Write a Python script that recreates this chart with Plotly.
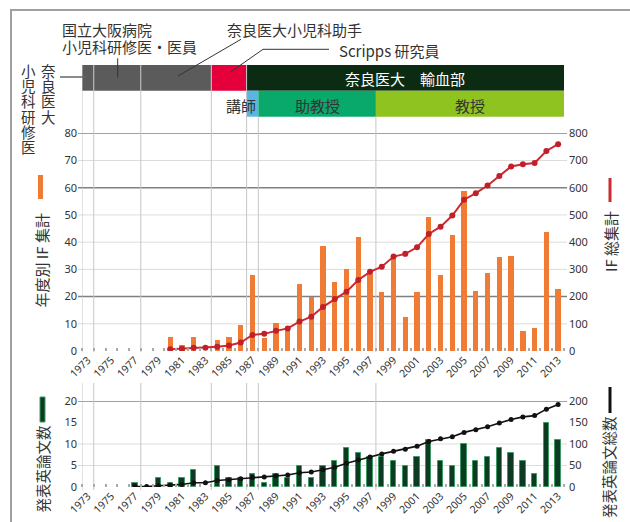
import plotly.graph_objects as go

W, H = 630, 522
def fx(p): return p / W
def fy(p): return 1 - p / H

# ---------------- data ----------------
if_years = list(range(1980, 2014))
annual_if = [5.1, 2.2, 5.0, None, 3.8, 5.0, 9.5, 27.7, 4.7, 10.2, 8.6, 24.5, 19.8, 38.4,
             25.3, 29.9, 41.9, 28.2, 21.7, 34.7, 12.3, 21.7, 49.1, 28.0, 42.4, 58.6,
             22.1, 28.4, 34.4, 34.8, 7.1, 8.4, 43.5, 22.8]
cum_if = [6, 8, 12, 12, 16, 20, 31, 59, 63, 74, 83, 108, 126, 162, 191, 218, 261, 291,
          310, 347, 357, 381, 430, 457, 498, 556, 580, 608, 643, 678, 686, 691, 735, 760]

paper_years = list(range(1977, 2014))
papers = [1, None, 2, 1, 2, 4, None, 5, 2, 2, 3, 1, 3, 2, 5, 2, 5, 6, 9, 8, 7, 7, 6, 5,
          7, 11, 6, 5, 10, 6, 7, 9, 8, 6, 3, 15, 11]
cum_papers = [1, 1, 3, 4, 6, 10, 10, 15, 17, 19, 22, 23, 26, 28, 33, 35, 40, 46, 55, 63,
              70, 77, 83, 88, 95, 106, 112, 117, 127, 133, 140, 149, 157, 163, 166, 181, 192]

tick_years = list(range(1973, 2014, 2))

career_top = [
    ("", 1972.5, 1973.5, "#5b5b5b"),
    ("", 1973.5, 1977.5, "#5b5b5b"),
    ("", 1977.5, 1983.5, "#5b5b5b"),
    ("", 1983.5, 1986.5, "#e5003c"),
    ("奈良医大　輸血部", 1986.5, 2013.5, "#0b2c13"),
]
career_bottom = [
    ("講師", 1986.5, 1987.5, "#5bb5e4"),
    ("助教授", 1987.5, 1997.5, "#08a96a"),
    ("教授", 1997.5, 2013.5, "#8fc320"),
]

top_grid_dark = [20, 60, 80]
top_grid_light = [10, 30, 40, 50, 70]
bot_grid_dark = [20]
bot_grid_light = [5, 10]

# ---------------- style ----------------
ORANGE = "#f07b34"
RED = "#cc2a30"
DKGREEN = "#0c3a22"
TXT = "#333333"
JP = "Noto Sans CJK JP"
NUM = "Noto Sans, Noto Sans CJK JP"

X_RANGE = [1972.5, 2013.5]
PL, PR = 82, 564

fig = go.Figure()
fig.add_trace(go.Bar(x=if_years, y=annual_if, width=0.45, marker_color=ORANGE,
                     marker_line_width=0, xaxis="x", yaxis="y", showlegend=False))
fig.add_trace(go.Scatter(x=if_years, y=cum_if, mode="lines+markers", xaxis="x", yaxis="y2",
                         line=dict(color=RED, width=2), marker=dict(color="#c0202a", size=6),
                         showlegend=False))
fig.add_trace(go.Bar(x=paper_years, y=papers, width=0.45, marker_color=DKGREEN,
                     marker_line=dict(color="#3d9a62", width=1), xaxis="x2", yaxis="y3",
                     showlegend=False))
fig.add_trace(go.Scatter(x=paper_years, y=cum_papers, mode="lines+markers", xaxis="x2", yaxis="y4",
                         line=dict(color="#111111", width=1.6), marker=dict(color="#111111", size=5),
                         showlegend=False))

xcommon = dict(range=X_RANGE, domain=[fx(PL), fx(PR)], tickmode="array", tickvals=tick_years,
               ticktext=[str(y) for y in tick_years], tickangle=-45, showgrid=False,
               zeroline=False, showline=False, ticks="", automargin=False,
               tickfont=dict(family=NUM, size=10.5, color=TXT),
               minor=dict(tickmode="linear", tick0=1972.5, dtick=1, ticks="inside", ticklen=3,
                          tickwidth=1.5, tickcolor="#aaaaaa", showgrid=False))
ycommon = dict(showgrid=False, zeroline=False, showline=False, ticks="", automargin=False,
               tickfont=dict(family=NUM, size=11, color=TXT))

top_dom = [fy(351), fy(133.3)]
bot_dom = [fy(487), fy(401)]

fig.update_layout(
    template="none",
    width=W, height=H, margin=dict(l=0, r=0, t=0, b=0, pad=0), autosize=False,
    paper_bgcolor="white", plot_bgcolor="rgba(0,0,0,0)", bargap=0,
    xaxis=dict(anchor="y", **xcommon),
    yaxis=dict(domain=top_dom, range=[0, 80], dtick=10, anchor="x", ticklabelstandoff=4, **ycommon),
    yaxis2=dict(overlaying="y", side="right", range=[0, 800], dtick=100, anchor="x",
                ticklabelstandoff=4, **ycommon),
    xaxis2=dict(anchor="y3", **xcommon),
    yaxis3=dict(domain=bot_dom, range=[0, 20], dtick=5, anchor="x2", ticklabelstandoff=4, **ycommon),
    yaxis4=dict(overlaying="y3", side="right", range=[0, 200], dtick=50, anchor="x2",
                ticklabelstandoff=4, **ycommon),
)

shapes = []
# outer frame (top and left visible)
shapes.append(dict(type="rect", xref="paper", yref="paper", x0=fx(11), x1=fx(700),
                   y0=fy(600), y1=fy(10), line=dict(color="#a0a0a0", width=2), layer="below"))
# horizontal gridlines
for vals, yref, col, w in [(top_grid_dark, "y", "#808080", 1.4), (top_grid_light, "y", "#dcdcdc", 1),
                           (bot_grid_dark, "y3", "#808080", 1.4), (bot_grid_light, "y3", "#dcdcdc", 1)]:
    for v in vals:
        shapes.append(dict(type="line", xref="paper", yref=yref, x0=fx(78), x1=fx(567), y0=v, y1=v,
                           line=dict(color=col, width=w), layer="below"))
# career bands
for _, s, e, c in career_top:
    shapes.append(dict(type="rect", xref="x", yref="paper", x0=s, x1=e, y0=fy(90.7), y1=fy(65),
                       fillcolor=c, line=dict(width=0), layer="below"))
for _, s, e, c in career_bottom:
    shapes.append(dict(type="rect", xref="x", yref="paper", x0=s, x1=e, y0=fy(116.7), y1=fy(90.7),
                       fillcolor=c, line=dict(width=0), layer="below"))
# vertical dividers
top_starts = [s for _, s, _, _ in career_top]
bot_starts = [s for _, s, _, _ in career_bottom]
for yr in sorted(set(top_starts + bot_starts)):
    ytop = 65 if yr in top_starts else 116.7
    shapes.append(dict(type="line", xref="x", yref="paper", x0=yr, x1=yr, y0=fy(352), y1=fy(ytop),
                       line=dict(color="#c6c6c6", width=1), layer="below"))
    shapes.append(dict(type="line", xref="x", yref="paper", x0=yr, x1=yr, y0=fy(490), y1=fy(383),
                       line=dict(color="#c6c6c6", width=1), layer="below"))
# leader lines
def pline(pts, col="#333333", w=1):
    path = "M " + " L ".join(f"{fx(x)},{fy(y)}" for x, y in pts)
    shapes.append(dict(type="path", xref="paper", yref="paper", path=path,
                       line=dict(color=col, width=w)))
pline([(117.7, 58.3), (117.7, 77.3)])
pline([(241, 39.3), (178, 76)])
pline([(329, 49.3), (263, 49.3), (231, 71.7)])
pline([(60, 77), (86, 77)], col="#666666", w=1.5)
# legend keys
shapes.append(dict(type="rect", xref="paper", yref="paper", x0=fx(38), x1=fx(43), y0=fy(199), y1=fy(175),
                   fillcolor=ORANGE, line=dict(width=0)))
shapes.append(dict(type="line", xref="paper", yref="paper", x0=fx(610), x1=fx(610), y0=fy(202), y1=fy(178),
                   line=dict(color=RED, width=3)))
shapes.append(dict(type="rect", xref="paper", yref="paper", x0=fx(40), x1=fx(45), y0=fy(422), y1=fy(397),
                   fillcolor=DKGREEN, line=dict(color="#3d9a62", width=1)))
shapes.append(dict(type="line", xref="paper", yref="paper", x0=fx(610), x1=fx(610), y0=fy(413), y1=fy(387),
                   line=dict(color="#111111", width=3)))
fig.update_layout(shapes=shapes)

anns = []
def ann(text, x, y, size=15, color=TXT, xa="center", ya="middle", angle=0, xref="paper", fam=JP):
    anns.append(dict(text=text, x=x if xref == "x" else fx(x), y=fy(y), xref=xref, yref="paper",
                     showarrow=False, xanchor=xa, yanchor=ya, textangle=angle,
                     font=dict(family=fam, size=size, color=color)))

# band labels
for lab, s, e, c in career_top:
    if lab:
        ann(lab, (s + e) / 2, 78.3, size=15, color="white", xref="x")
for lab, s, e, c in career_bottom:
    if lab == "講師":
        ann(lab, e, 105, size=15, xa="right", xref="x")
    else:
        ann(lab, (s + e) / 2, 105, size=15, xref="x")
# callouts
ann("国立大阪病院", 60, 29.3, xa="left")
ann("小児科研修医・医員", 60, 46.7, xa="left")
ann("奈良医大小児科助手", 225, 29.3, xa="left")
ann("Scripps 研究員", 337, 50.7, xa="left")
for i, ch in enumerate("小児科研修医"):
    ann(ch, 28, 70 + i * 15.4, size=14.5)
for i, ch in enumerate("奈良医大"):
    ann(ch, 48, 70 + i * 15.4, size=14.5)
# axis titles
ann("年度別 IF 集計", 40.5, 260, size=15, angle=-90)
ann("IF 総集計", 610, 242, size=15, angle=-90)
ann("発表英論文数", 41.5, 469, size=14.5, angle=-90)
ann("発表英論文総数", 608, 467, size=14.5, angle=-90)
fig.update_layout(annotations=anns)

fig.write_html("out.html", config={"displayModeBar": False},
               post_script="document.body.style.margin='0px';document.body.style.overflow='hidden';")
